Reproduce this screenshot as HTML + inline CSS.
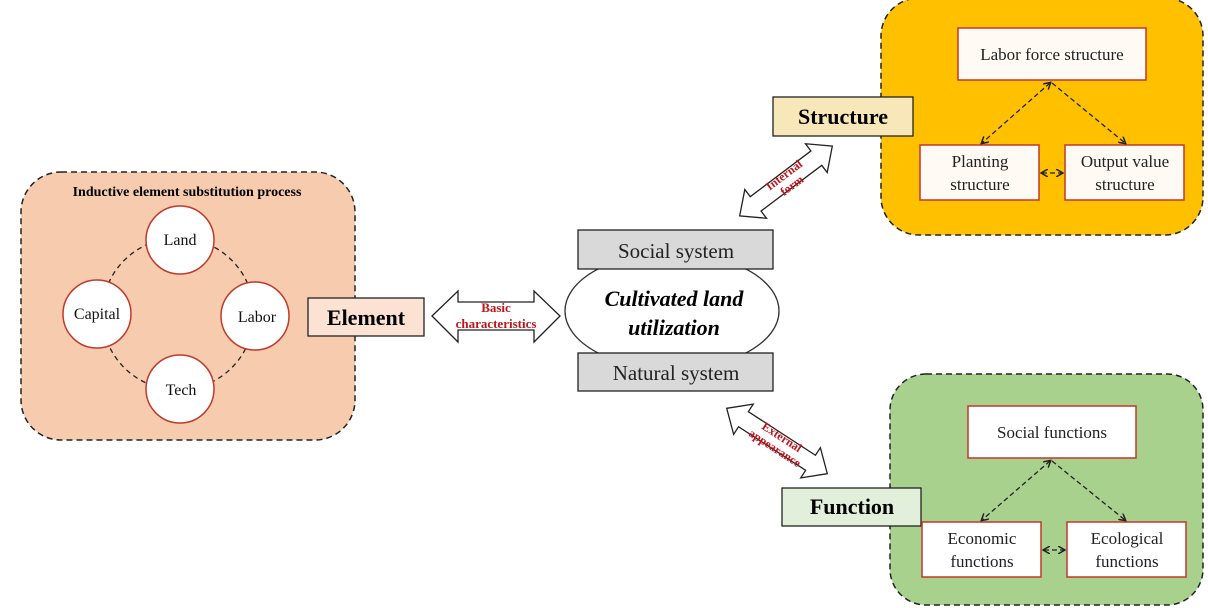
<!DOCTYPE html>
<html><head><meta charset="utf-8"><style>
html,body{margin:0;padding:0;background:#fff;}
svg{display:block;font-family:"Liberation Serif",serif;}
</style></head><body>
<svg width="1208" height="608" viewBox="0 0 1208 608" xmlns="http://www.w3.org/2000/svg">
<defs>
<marker id="ah" markerWidth="8" markerHeight="8" refX="6" refY="4" orient="auto-start-reverse" markerUnits="userSpaceOnUse">
<path d="M0,0 L7,4 L0,8" fill="none" stroke="#222" stroke-width="1.5"/>
</marker>
</defs>
<!-- left panel -->
<rect x="21" y="172" width="334" height="268" rx="40" fill="#f7cbae" stroke="#222" stroke-width="1.5" stroke-dasharray="6,4"/>
<text x="187" y="196" font-size="14" font-weight="bold" text-anchor="middle">Inductive element substitution process</text>
<circle cx="178" cy="314" r="76" fill="none" stroke="#222" stroke-width="1.3" stroke-dasharray="5,4"/>
<g fill="#fff" stroke="#c0392b" stroke-width="1.5">
<circle cx="180" cy="240" r="34"/>
<circle cx="97" cy="314" r="34"/>
<circle cx="255" cy="316" r="34"/>
<circle cx="180" cy="389" r="34"/>
</g>
<g font-size="16" text-anchor="middle" fill="#111">
<text x="180" y="245">Land</text>
<text x="97" y="319">Capital</text>
<text x="257" y="322">Labor</text>
<text x="181" y="395">Tech</text>
</g>
<!-- Element -->
<rect x="308" y="298" width="116" height="38" fill="#fbe2d3" stroke="#222" stroke-width="1.3"/>
<text x="366" y="325" font-size="22" font-weight="bold" text-anchor="middle">Element</text>
<!-- basic arrow -->
<polygon points="432,316 458,291 458,302 534,302 534,291 560,316 534,342 534,330 458,330 458,342" fill="#fff" stroke="#222" stroke-width="1.3"/>
<text x="496" y="312" font-size="13" font-weight="bold" fill="#c0141c" text-anchor="middle">Basic</text>
<text x="496" y="328" font-size="13" font-weight="bold" fill="#c0141c" text-anchor="middle">characteristics</text>
<!-- center -->
<ellipse cx="672" cy="311" rx="107" ry="58" fill="#fff" stroke="#333" stroke-width="1.3"/>
<rect x="578" y="230" width="195" height="39" fill="#d9d9d9" stroke="#222" stroke-width="1.3"/>
<rect x="578" y="353" width="195" height="38" fill="#d9d9d9" stroke="#222" stroke-width="1.3"/>
<text x="676" y="258" font-size="21" text-anchor="middle" fill="#222">Social system</text>
<text x="676" y="380" font-size="21" text-anchor="middle" fill="#222">Natural system</text>
<text x="674" y="306" font-size="22" font-weight="bold" font-style="italic" text-anchor="middle">Cultivated land</text>
<text x="674" y="335" font-size="22" font-weight="bold" font-style="italic" text-anchor="middle">utilization</text>
<!-- internal form arrow -->
<g transform="translate(786,181) rotate(-37)">
<polygon points="-58,0 -38,-18 -38,-9 38,-9 38,-18 58,0 38,18 38,9 -38,9 -38,18" fill="#fff" stroke="#222" stroke-width="1.3"/>
<text x="2" y="-2" font-size="12" font-weight="bold" fill="#c0141c" text-anchor="middle">Internal</text>
<text x="2" y="11" font-size="12" font-weight="bold" fill="#c0141c" text-anchor="middle">form</text>
</g>
<!-- external arrow -->
<g transform="translate(777,441) rotate(33)">
<polygon points="-60,0 -40,-18 -40,-9 40,-9 40,-18 60,0 40,18 40,9 -40,9 -40,18" fill="#fff" stroke="#222" stroke-width="1.3"/>
<text x="2" y="-2" font-size="12" font-weight="bold" fill="#c0141c" text-anchor="middle">External</text>
<text x="2" y="11" font-size="12" font-weight="bold" fill="#c0141c" text-anchor="middle">appearance</text>
</g>
<!-- structure panel -->
<rect x="881" y="-2" width="322" height="237" rx="38" fill="#ffc000" stroke="#222" stroke-width="1.5" stroke-dasharray="6,4"/>
<rect x="773" y="97" width="140" height="39" fill="#f8e7b8" stroke="#222" stroke-width="1.3"/>
<text x="843" y="124" font-size="22" font-weight="bold" text-anchor="middle">Structure</text>
<g fill="#fffaf3" stroke="#c0392b" stroke-width="1.5">
<rect x="958" y="28" width="188" height="52"/>
<rect x="920" y="145" width="119" height="55"/>
<rect x="1065" y="145" width="119" height="55"/>
</g>
<g stroke="#222" stroke-width="1.3" stroke-dasharray="5,3" fill="none">
<line x1="1050" y1="83" x2="982" y2="143" marker-start="url(#ah)" marker-end="url(#ah)"/>
<line x1="1052" y1="83" x2="1125" y2="143" marker-end="url(#ah)"/>
<line x1="1042" y1="173" x2="1062" y2="173" marker-start="url(#ah)" marker-end="url(#ah)"/>
</g>
<g font-size="17" text-anchor="middle" fill="#222">
<text x="1052" y="60">Labor force structure</text>
<text x="980" y="167">Planting</text>
<text x="980" y="190">structure</text>
<text x="1125" y="167">Output value</text>
<text x="1125" y="190">structure</text>
</g>
<!-- function panel -->
<rect x="890" y="374" width="313" height="231" rx="36" fill="#a9d18e" stroke="#222" stroke-width="1.5" stroke-dasharray="6,4"/>
<rect x="782" y="488" width="139" height="38" fill="#e2efda" stroke="#222" stroke-width="1.3"/>
<text x="852" y="514" font-size="22" font-weight="bold" text-anchor="middle">Function</text>
<g fill="#fff" stroke="#c0392b" stroke-width="1.5">
<rect x="968" y="406" width="168" height="52"/>
<rect x="922" y="522" width="119" height="55"/>
<rect x="1067" y="522" width="119" height="55"/>
</g>
<g stroke="#222" stroke-width="1.3" stroke-dasharray="5,3" fill="none">
<line x1="1050" y1="461" x2="982" y2="520" marker-start="url(#ah)" marker-end="url(#ah)"/>
<line x1="1052" y1="461" x2="1125" y2="520" marker-end="url(#ah)"/>
<line x1="1044" y1="550" x2="1064" y2="550" marker-start="url(#ah)" marker-end="url(#ah)"/>
</g>
<g font-size="17" text-anchor="middle" fill="#222">
<text x="1052" y="438">Social functions</text>
<text x="982" y="544">Economic</text>
<text x="982" y="567">functions</text>
<text x="1127" y="544">Ecological</text>
<text x="1127" y="567">functions</text>
</g>
</svg>
</body></html>
